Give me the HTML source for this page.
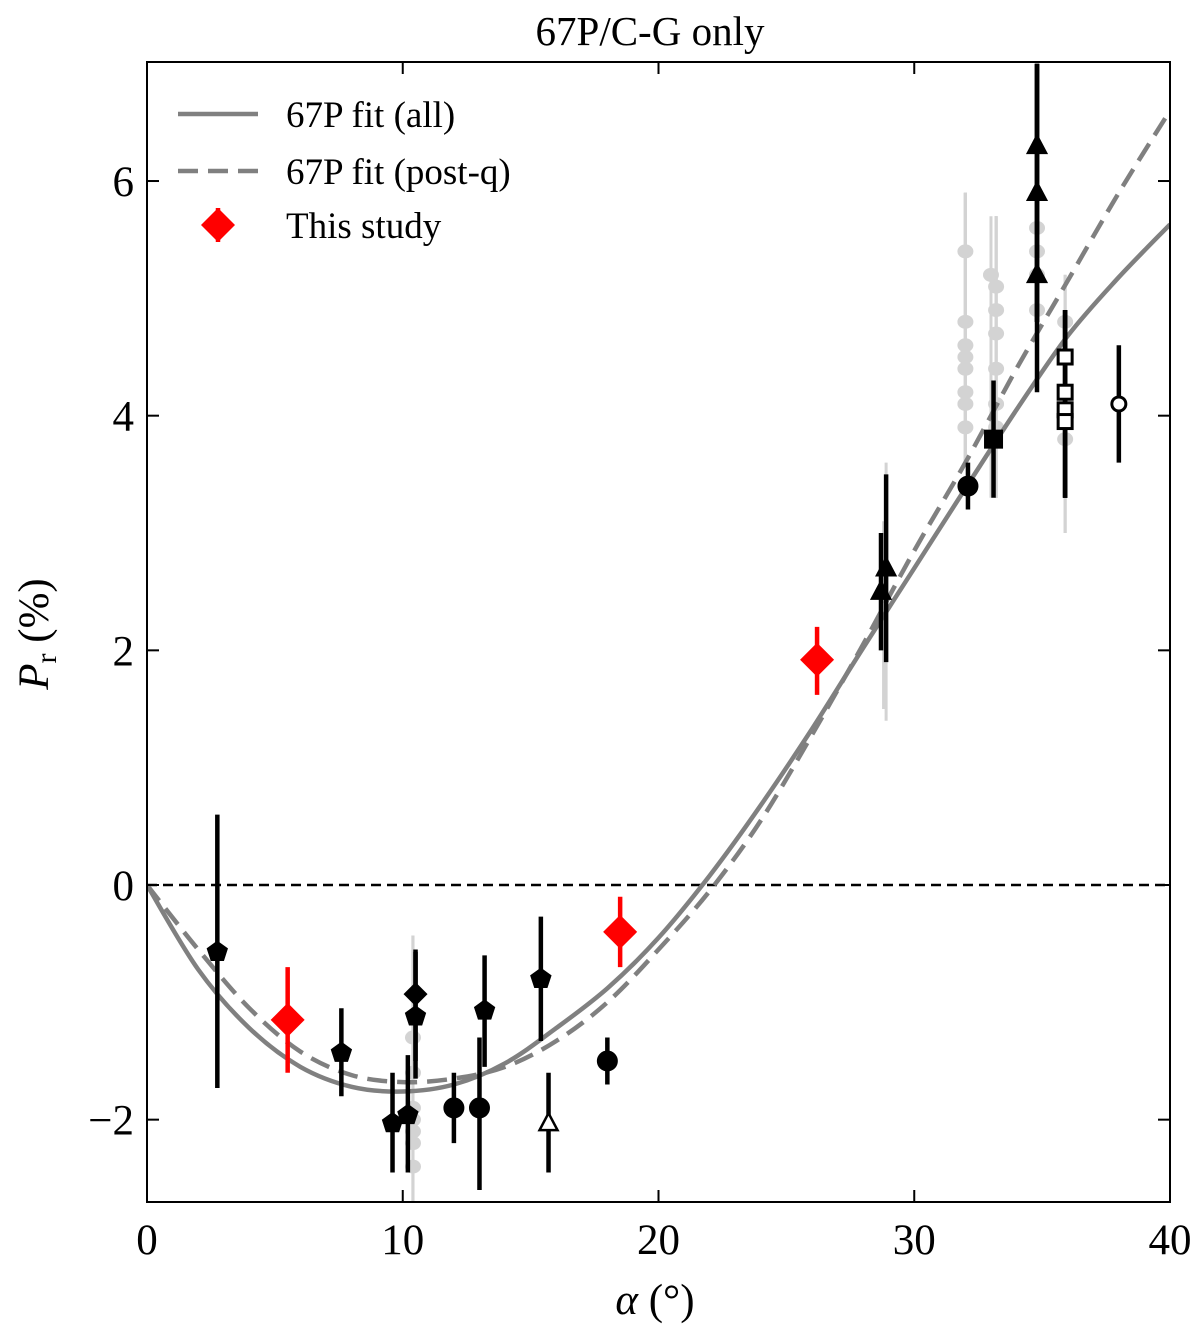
<!DOCTYPE html>
<html><head><meta charset="utf-8"><style>
body{margin:0;background:#fff}
svg text{font-family:"Liberation Serif","DejaVu Serif",serif;fill:#000}
</style></head><body>
<svg id="chart" width="1200" height="1335" viewBox="0 0 1200 1335">
</svg>
<script>
const xTicks=[0,10,20,30,40];
const yTicks=[-2,0,2,4,6];
const yTickLabels=["\u22122","0","2","4","6"];
const fitAllX=[0,2,4,6,8,10,12,14,16,18,20,22,24,26,28,30,32,34,36,38,40];
const fitAllY=[0,-0.72,-1.22,-1.55,-1.72,-1.76,-1.7,-1.52,-1.22,-0.88,-0.45,0.08,0.68,1.33,2.02,2.7,3.38,4.05,4.68,5.18,5.63];
const fitPostY=[0,-0.55,-1.05,-1.42,-1.62,-1.68,-1.65,-1.55,-1.33,-1.0,-0.55,-0.05,0.55,1.28,2.05,2.85,3.6,4.4,5.15,5.9,6.6];
const grayX=[10.4,10.4,10.4,10.4,10.4,10.4,10.4,32,32,32,32,32,32,32,32,33,33.2,33.2,33.2,33.2,33.2,33.2,34.8,34.8,34.8,34.8,35.9,35.9,35.9,28.8,28.9];
const grayY=[-1.3,-1.6,-1.9,-2.0,-2.1,-2.2,-2.4,5.4,4.8,4.6,4.5,4.4,4.2,4.1,3.9,5.2,5.1,4.9,4.7,4.4,4.1,3.9,5.6,5.4,5.2,4.9,4.8,4.2,3.8,2.3,2.4];
const grayLo=[-2.7,-2.7,-2.7,-2.7,-2.7,-2.7,-2.7,3.6,3.6,3.6,3.6,3.6,3.6,3.6,3.6,3.3,3.3,3.3,3.3,3.3,3.3,3.3,4.8,4.8,4.8,4.8,3.0,3.0,3.0,1.5,1.4];
const grayHi=[-0.43,-0.43,-0.43,-0.43,-0.43,-0.43,-0.43,5.9,5.9,5.9,5.9,5.9,5.9,5.9,5.9,5.7,5.7,5.7,5.7,5.7,5.7,5.7,6.0,6.0,6.0,6.0,5.2,5.2,5.2,3.1,3.6];
const ptX=[2.75,7.6,9.6,10.2,10.5,10.5,12.0,13.0,13.2,15.4,15.7,18.0,28.7,28.9,32.1,33.1,34.8,34.8,34.8,35.9,35.9,35.9,35.9,38];
const ptY=[-0.57,-1.43,-2.03,-1.96,-1.12,-0.93,-1.9,-1.9,-1.07,-0.8,-2.03,-1.5,2.5,2.7,3.4,3.8,5.2,5.9,6.3,4.5,4.2,4.05,3.95,4.1];
const ptLo=[-1.73,-1.8,-2.45,-2.45,-1.65,-1.5,-2.2,-2.6,-1.55,-1.33,-2.45,-1.7,2.0,1.9,3.2,3.3,4.2,4.8,4.8,3.3,3.3,3.3,3.3,3.6];
const ptHi=[0.6,-1.05,-1.6,-1.45,-0.57,-0.55,-1.6,-1.3,-0.6,-0.27,-1.6,-1.3,3.0,3.5,3.6,4.3,7.0,7.0,7.0,4.9,4.9,4.9,4.9,4.6];
const ptShape=["pent","pent","pent","pent","pent","diam","circ","circ","pent","pent","otri","circ","tri","tri","circ","sq","tri","tri","tri","osq","osq","osq","osq","ocirc"];
const redX=[5.5,18.5,26.2];
const redY=[-1.15,-0.4,1.92];
const redLo=[-1.6,-0.7,1.62];
const redHi=[-0.7,-0.1,2.2];

const L=147,R=1170,T=62,B=1202;
const xs=v=>L+(v-0)/40*(R-L);
const ys=v=>885-v*117.33;
const svg=document.getElementById('chart');
const NS='http://www.w3.org/2000/svg';
function mk(tag,attrs,parent){const e=document.createElementNS(NS,tag);for(const k in attrs)e.setAttribute(k,attrs[k]);(parent||svg).appendChild(e);return e;}

const clip=mk('clipPath',{id:'pc'});mk('rect',{x:L,y:T,width:R-L,height:B-T},clip);
const plot=mk('g',{'clip-path':'url(#pc)'});



const z=mk('line',{x1:L,x2:R,y1:ys(0),y2:ys(0),stroke:'#000','stroke-width':2.5,'stroke-dasharray':'10,6'},plot);



for(let i=0;i<grayX.length;i++){
 const l=mk('line',{x1:xs(grayX[i]),x2:xs(grayX[i]),y1:ys(grayLo[i]),y2:ys(grayHi[i]),stroke:'#d3d3d3','stroke-width':3},plot);
 
 
}
for(let i=0;i<grayX.length-2;i++){
 const c=mk('ellipse',{cx:xs(grayX[i]),cy:ys(grayY[i]),rx:8,ry:7,fill:'#d3d3d3'},plot);
 
 
}

function path(xa,ya){
 const p=xa.map((x,i)=>[xs(x),ys(ya[i])]);
 let d='M'+p[0][0].toFixed(1)+','+p[0][1].toFixed(1);
 for(let i=0;i<p.length-1;i++){
  const p0=p[Math.max(0,i-1)],p1=p[i],p2=p[i+1],p3=p[Math.min(p.length-1,i+2)];
  const c1=[p1[0]+(p2[0]-p0[0])/6,p1[1]+(p2[1]-p0[1])/6];
  const c2=[p2[0]-(p3[0]-p1[0])/6,p2[1]-(p3[1]-p1[1])/6];
  d+=' C'+c1[0].toFixed(1)+','+c1[1].toFixed(1)+' '+c2[0].toFixed(1)+','+c2[1].toFixed(1)+' '+p2[0].toFixed(1)+','+p2[1].toFixed(1);
 }
 return d;
}
const fa=mk('path',{d:path(fitAllX,fitAllY),fill:'none',stroke:'#808080','stroke-width':4.5},plot);


const fp=mk('path',{d:path(fitAllX,fitPostY),fill:'none',stroke:'#808080','stroke-width':4.5,'stroke-dasharray':'20,10'},plot);



function marker(shape,cx,cy,parent,fill){
 let e;const open=shape[0]==='o';
 const f=open?'#fff':(fill||'#000'),st=fill||'#000';
 const s=shape.replace(/^o/,'');
 if(s==='pent'){let p=[];for(let k=0;k<5;k++){const a=-Math.PI/2+k*2*Math.PI/5;p.push((cx+10*Math.cos(a)).toFixed(1)+','+(cy+10*Math.sin(a)).toFixed(1));}e=mk('polygon',{points:p.join(' '),fill:f,stroke:st,'stroke-width':2},parent);}
 else if(s==='diam'){const r=fill?17:12;e=mk('polygon',{points:`${cx},${cy-r} ${cx+r},${cy} ${cx},${cy+r} ${cx-r},${cy}`,fill:f},parent);}
 else if(s==='circ'){e=mk('circle',{cx,cy,r:open?7:9,fill:f,stroke:st,'stroke-width':3},parent);}
 else if(s==='tri'){e=mk('polygon',{points:`${cx},${cy-10} ${cx+9},${cy+7} ${cx-9},${cy+7}`,fill:f,stroke:st,'stroke-width':2.5},parent);}
 else if(s==='sq'){const r=open?7:8;e=mk('rect',{x:cx-r,y:cy-r,width:2*r,height:2*r,fill:f,stroke:st,'stroke-width':3},parent);}
 return e;
}
for(let i=0;i<ptX.length;i++){
 const l=mk('line',{x1:xs(ptX[i]),x2:xs(ptX[i]),y1:ys(ptLo[i]),y2:ys(ptHi[i]),stroke:'#000','stroke-width':4.5},plot);
 
 
}
for(let i=0;i<ptX.length;i++){
 const m=marker(ptShape[i],xs(ptX[i]),ys(ptY[i]),plot);
 
 
}
for(let i=0;i<redX.length;i++){
 const l=mk('line',{x1:xs(redX[i]),x2:xs(redX[i]),y1:ys(redLo[i]),y2:ys(redHi[i]),stroke:'#f00','stroke-width':4.5},plot);
 
 
 const m=marker('diam',xs(redX[i]),ys(redY[i]),plot,'#f00');
 
 
}

const fr=mk('rect',{x:L,y:T,width:R-L,height:B-T,fill:'none',stroke:'#000','stroke-width':2});


xTicks.forEach(v=>{
 mk('line',{x1:xs(v),x2:xs(v),y1:B,y2:B-12,stroke:'#000','stroke-width':2});
 mk('line',{x1:xs(v),x2:xs(v),y1:T,y2:T+12,stroke:'#000','stroke-width':2});
 const t=mk('text',{x:xs(v),y:1254,'font-size':43,'text-anchor':'middle'});t.textContent=v;
 
 
});
yTicks.forEach((v,i)=>{
 mk('line',{x1:L,x2:L+12,y1:ys(v),y2:ys(v),stroke:'#000','stroke-width':2});
 mk('line',{x1:R,x2:R-12,y1:ys(v),y2:ys(v),stroke:'#000','stroke-width':2});
 const t=mk('text',{x:134,y:ys(v)+15,'font-size':43,'text-anchor':'end'});t.textContent=yTickLabels[i];
 
 
});
</script>
<svg width="1200" height="1335" style="position:absolute;left:0;top:0">
<text x="650" y="45" font-size="41" text-anchor="middle">67P/C-G only</text>
<text x="655" y="1314" font-size="43" text-anchor="middle"><tspan font-style="italic">α</tspan> (°)</text>
<text transform="translate(48,634) rotate(-90)" font-size="43" text-anchor="middle"><tspan font-style="italic">P</tspan><tspan font-size="30" dy="8">r</tspan><tspan dy="-8"> (%)</tspan></text>
<g>
<line x1="178" x2="258" y1="114" y2="114" stroke="#808080" stroke-width="4.5"/>
<text x="286" y="127" font-size="37">67P fit (all)</text>
<line x1="178" x2="258" y1="171" y2="171" stroke="#808080" stroke-width="4.5" stroke-dasharray="20,10"/>
<text x="286" y="184" font-size="37">67P fit (post-q)</text>
<line x1="218" x2="218" y1="208" y2="242" stroke="#f00" stroke-width="4.5"/>
<polygon points="218,208 235,225 218,242 201,225" fill="#f00"/>
<text x="286" y="238" font-size="37">This study</text>
</g>
</svg>
</body></html>
